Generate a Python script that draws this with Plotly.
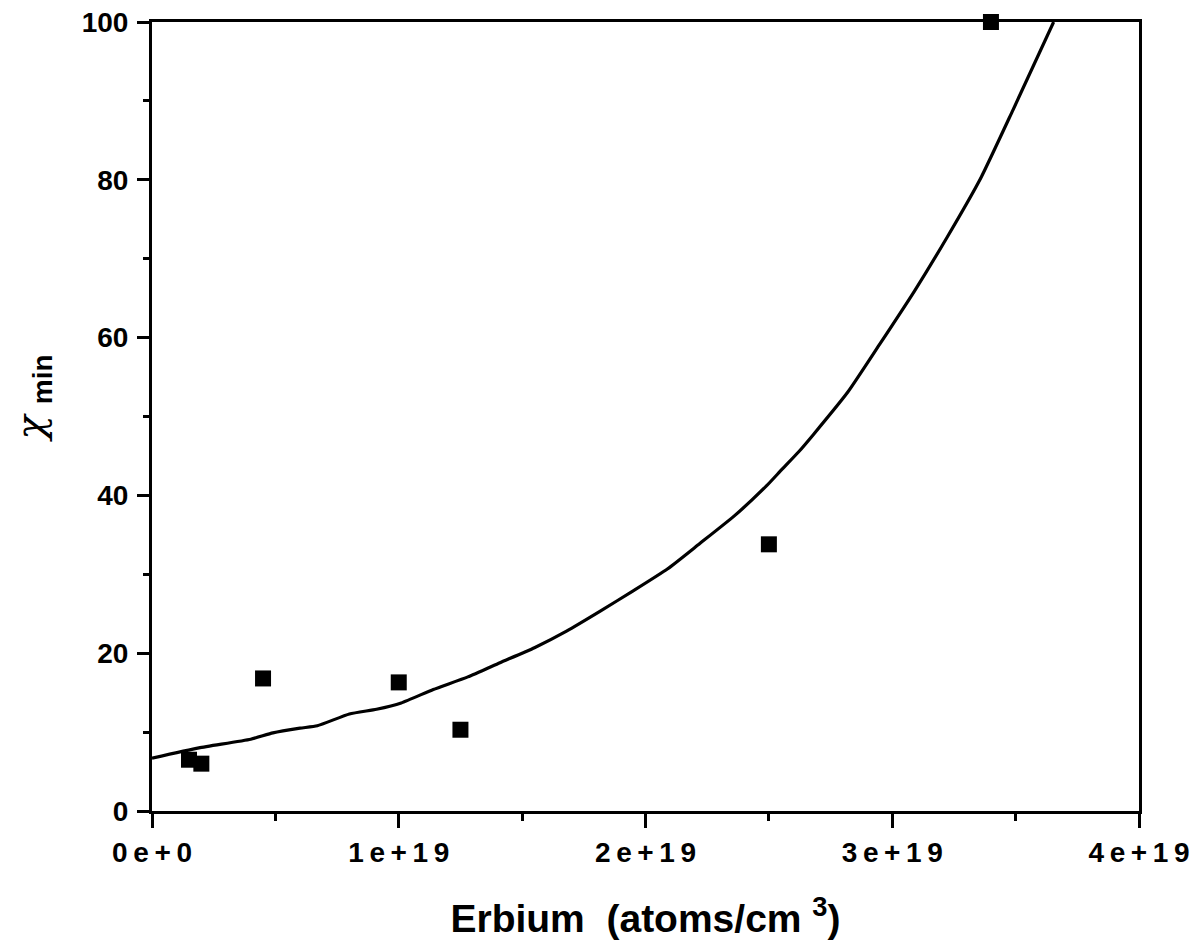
import plotly.graph_objects as go

# Measured minimum yield vs. erbium concentration
er_conc = [1.5e18, 2.0e18, 4.5e18, 1.0e19, 1.25e19, 2.5e19, 3.4e19]
chi_min = [6.5, 6.0, 16.8, 16.3, 10.3, 33.8, 100.0]

# Fitted curve (concentration in atoms/cm^3, chi_min in %)
fit_x = [0.00e19, 0.19e19, 0.40e19, 0.49e19, 0.60e19, 0.67e19, 0.80e19, 0.91e19,
         1.01e19, 1.14e19, 1.28e19, 1.41e19, 1.55e19, 1.68e19, 1.82e19, 1.95e19,
         2.09e19, 2.22e19, 2.36e19, 2.49e19, 2.55e19, 2.62e19, 2.68e19, 2.82e19,
         2.95e19, 3.09e19, 3.22e19, 3.36e19, 3.49e19, 3.654e19]
fit_y = [6.7, 8.0, 9.1, 9.9, 10.5, 10.8, 12.3, 12.9,
         13.7, 15.4, 17.0, 18.8, 20.7, 22.8, 25.4, 27.9,
         30.7, 33.9, 37.4, 41.2, 43.2, 45.5, 47.7, 53.1,
         59.2, 65.9, 72.6, 80.3, 88.9, 100.0]

x_tickvals = [0, 1e19, 2e19, 3e19, 4e19]
x_ticktext = ["0\u2009e\u2009+\u20090", "1\u2009e\u2009+\u20091\u20099",
              "2\u2009e\u2009+\u20091\u20099", "3\u2009e\u2009+\u20091\u20099",
              "4\u2009e\u2009+\u20091\u20099"]
y_tickvals = [0, 20, 40, 60, 80, 100]

FONT = "Liberation Sans, Arial, Helvetica, sans-serif"

fig = go.Figure()
fig.add_trace(go.Scatter(
    x=fit_x, y=fit_y, mode="lines",
    line=dict(color="black", width=3.2, shape="spline", smoothing=0.5),
    showlegend=False, hoverinfo="skip",
))
fig.add_trace(go.Scatter(
    x=er_conc, y=chi_min, mode="markers",
    marker=dict(symbol="square", size=16, color="black"),
    cliponaxis=False, showlegend=False,
))

fig.update_layout(
    width=1197, height=949,
    margin=dict(l=152, r=58, t=22, b=138),
    paper_bgcolor="white", plot_bgcolor="white",
    font=dict(family=FONT, color="black"),
)

fig.update_xaxes(
    range=[0, 4e19], showgrid=False, zeroline=False, automargin=False,
    showline=True, linecolor="black", linewidth=3, mirror=True,
    ticks="outside", ticklen=14, tickwidth=3, tickcolor="black",
    tickvals=x_tickvals, ticktext=x_ticktext,
    tickfont=dict(family=FONT, size=28, weight="bold"),
    minor=dict(ticks="outside", ticklen=7, tickwidth=3, tickcolor="black",
               tickvals=[0.5e19, 1.5e19, 2.5e19, 3.5e19], showgrid=False),
    title=dict(text="Erbium  (atoms/cm <sup>3</sup>)",
               font=dict(family=FONT, size=39, weight="bold"), standoff=39),
)
fig.update_yaxes(
    range=[0, 100], showgrid=False, zeroline=False, automargin=False,
    showline=True, linecolor="black", linewidth=3, mirror=True,
    ticks="outside", ticklen=12, tickwidth=3, tickcolor="black",
    tickvals=y_tickvals, ticklabelstandoff=3,
    tickfont=dict(family=FONT, size=28, weight="bold"),
    minor=dict(ticks="outside", ticklen=6, tickwidth=3, tickcolor="black",
               tickvals=[10, 30, 50, 70, 90], showgrid=False),
)

# Vertical axis label: chi with "min" subscript
fig.add_annotation(
    text="<span style='font-family:DejaVu Serif;font-weight:normal;"
         "font-style:italic;font-size:40px'>χ</span> <sub>min</sub>",
    xref="paper", yref="paper", x=0, y=0.5,
    xanchor="center", yanchor="middle", xshift=-120, yshift=18,
    textangle=-90, showarrow=False,
    font=dict(family=FONT, size=40, weight="bold", color="black"),
)

fig.write_html("out.html")
